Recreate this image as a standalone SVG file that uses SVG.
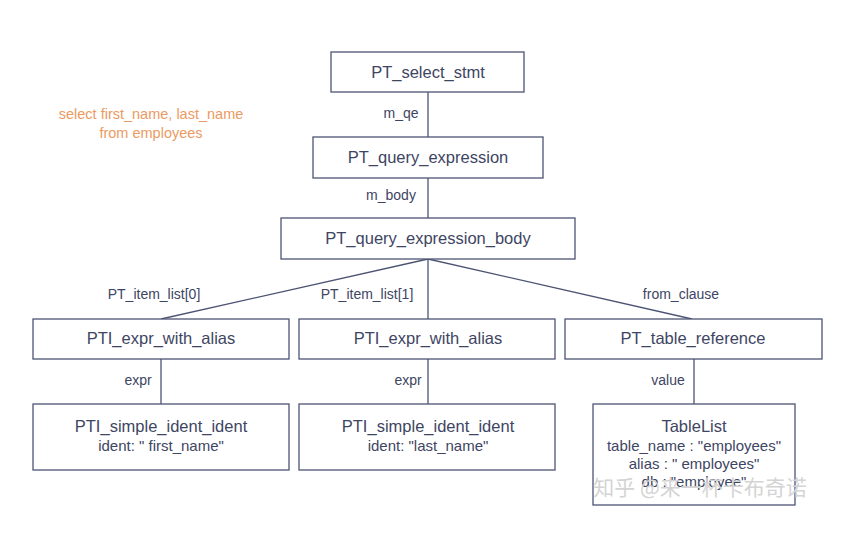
<svg xmlns="http://www.w3.org/2000/svg" width="847" height="533" viewBox="0 0 847 533">
<style>
.box{fill:#ffffff;stroke:#4d5473;stroke-width:1.3}
.ln{stroke:#4d5473;stroke-width:1.3;fill:none}
.t{font-family:"Liberation Sans",Arial,sans-serif;fill:#3e4563;text-anchor:middle;dominant-baseline:central}
.n{font-size:16.5px}
.s{font-size:15px}
.l{font-size:14px}
.o{font-family:"Liberation Sans",Arial,sans-serif;fill:#ec9a62;font-size:14.5px;text-anchor:middle;dominant-baseline:central}
.wm{font-family:"Noto Sans CJK SC",sans-serif;fill:#d4d4d4;font-size:21px;text-anchor:middle;dominant-baseline:central}
</style>
<rect width="847" height="533" fill="#ffffff"/>
<text class="o" x="151" y="114">select first_name, last_name</text>
<text class="o" x="151" y="133">from employees</text>
<g id="connectors">
<line class="ln" x1="428" y1="92" x2="428" y2="137"/>
<line class="ln" x1="428" y1="178" x2="428" y2="218"/>
<line class="ln" x1="428" y1="259" x2="161" y2="319"/>
<line class="ln" x1="428" y1="259" x2="428" y2="319"/>
<line class="ln" x1="428" y1="259" x2="692" y2="319"/>
<line class="ln" x1="161" y1="359" x2="161" y2="404"/>
<line class="ln" x1="428" y1="359" x2="428" y2="404"/>
<line class="ln" x1="694" y1="359" x2="694" y2="404"/>
<text class="t l" x="401" y="113">m_qe</text>
<text class="t l" x="391" y="195">m_body</text>
<text class="t l" x="154" y="294">PT_item_list[0]</text>
<text class="t l" x="367" y="294">PT_item_list[1]</text>
<text class="t l" x="681" y="294">from_clause</text>
<text class="t l" x="138" y="380">expr</text>
<text class="t l" x="408" y="380">expr</text>
<text class="t l" x="668" y="380">value</text>
</g>
<g id="select_stmt">
<rect class="box" x="331" y="52" width="193" height="40"/>
<text class="t n" x="428" y="72">PT_select_stmt</text>
</g>
<g id="query_expression">
<rect class="box" x="313" y="137" width="230" height="41"/>
<text class="t n" x="428" y="157">PT_query_expression</text>
</g>
<g id="query_expression_body">
<rect class="box" x="281" y="218" width="294" height="41"/>
<text class="t n" x="428" y="238">PT_query_expression_body</text>
</g>
<g id="expr_with_alias_0">
<rect class="box" x="33" y="319" width="256" height="40"/>
<text class="t n" x="161" y="338">PTI_expr_with_alias</text>
</g>
<g id="expr_with_alias_1">
<rect class="box" x="299" y="319" width="256" height="40"/>
<text class="t n" x="428" y="338">PTI_expr_with_alias</text>
</g>
<g id="table_reference">
<rect class="box" x="565" y="319" width="257" height="40"/>
<text class="t n" x="693" y="338">PT_table_reference</text>
</g>
<g id="simple_ident_0">
<rect class="box" x="33" y="404" width="256" height="66"/>
<text class="t n" x="161" y="426">PTI_simple_ident_ident</text>
<text class="t s" x="161" y="445">ident: " first_name"</text>
</g>
<g id="simple_ident_1">
<rect class="box" x="299" y="404" width="256" height="66"/>
<text class="t n" x="428" y="426">PTI_simple_ident_ident</text>
<text class="t s" x="428" y="445">ident: "last_name"</text>
</g>
<g id="table_list">
<rect class="box" x="593" y="404" width="202" height="101"/>
<text class="t n" x="694" y="426">TableList</text>
<text class="t s" x="694" y="445">table_name : "employees"</text>
<text class="t s" x="694" y="463">alias : " employees"</text>
<text class="t s" x="694" y="481">db : "employee"</text>
</g>
<text class="wm" x="700" y="486">知乎 @来一杯卡布奇诺</text>
</svg>
